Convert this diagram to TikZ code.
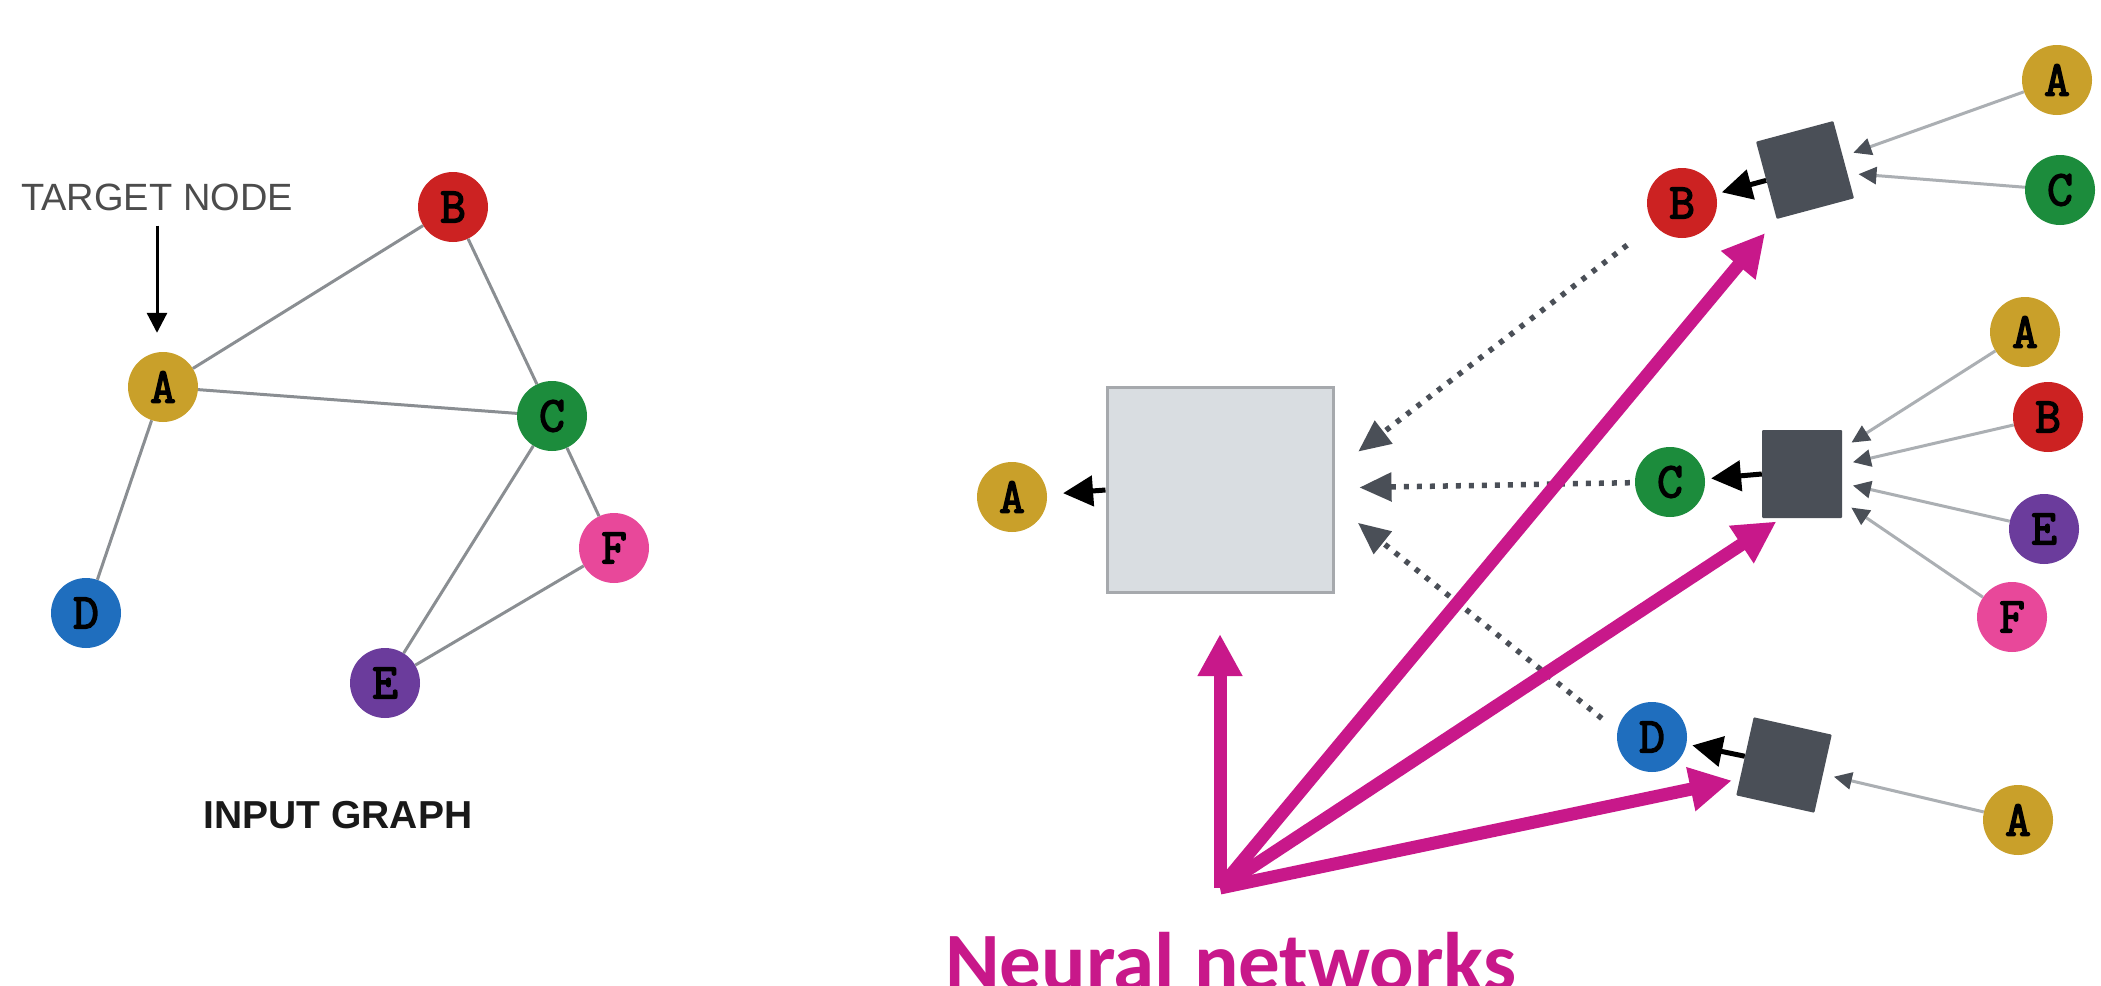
\documentclass[tikz,border=0pt]{standalone}
\usepackage{fontspec}
\setmainfont{Liberation Sans}
\newfontfamily\nnfont{Carlito}
\newfontfamily\letterfont{Latin Modern Mono}[FakeBold=3]
\usetikzlibrary{arrows.meta}
\definecolor{cA}{HTML}{C9A02A}
\definecolor{cB}{HTML}{CC2222}
\definecolor{cC}{HTML}{1C8C3C}
\definecolor{cD}{HTML}{1F6EBE}
\definecolor{cE}{HTML}{6B3C9C}
\definecolor{cF}{HTML}{E8489A}
\definecolor{nnpink}{HTML}{C8188A}
\definecolor{boxdark}{HTML}{4A4F57}
\definecolor{boxlight}{HTML}{D9DDE1}
\definecolor{boxedge}{HTML}{A6A9AD}
\definecolor{edgegray}{HTML}{8A8E92}
\definecolor{ingray}{HTML}{ABAFB3}
\begin{document}
\begin{tikzpicture}[x=1pt,y=-1pt,
  vert/.style={circle,fill=#1,minimum size=70pt,inner sep=0pt,font=\letterfont\fontsize{50}{50}\selectfont},
  agg/.style={fill=boxdark,minimum width=80pt,minimum height=80pt,inner sep=0pt,rounded corners=1pt,rotate=#1},
  edge/.style={draw=edgegray,line width=3pt},
  inarrow/.style={draw=ingray,line width=3pt,-{Triangle[length=18pt,width=17pt,color=boxdark]},shorten >=11pt},
  outarrow/.style={line width=5pt,-{Triangle[length=30pt,width=30pt]},shorten >=6pt},
  dotarrow/.style={draw=boxdark,line width=5.5pt,dash pattern=on 5pt off 8pt,-{Triangle[length=32pt,width=28pt]}},
  nnarrow/.style={draw=nnpink,line width=13pt,-{Triangle[length=42pt,width=42pt]}}]
\useasboundingbox[fill=white](0,0)rectangle(2101,985);
\node[vert=cA](aL)at(163,387){A};
\node[vert=cB](bL)at(453,207){B};
\node[vert=cC](cL)at(552,416){C};
\node[vert=cD](dL)at(86,613){D};
\node[vert=cE](eL)at(385,683){E};
\node[vert=cF](fL)at(614,548){F};
\draw[edge](aL)--(bL) (aL)--(cL) (bL)--(cL) (aL)--(dL) (cL)--(eL) (cL)--(fL) (eL)--(fL);
\node[inner sep=0pt,text=black!70,font=\fontsize{38}{38}\selectfont](tgt)at(157,197){TARGET NODE};
\draw[line width=3pt,-{Triangle[length=20pt,width=20pt]},shorten <=15pt,shorten >=19pt](tgt)--(tgt|-aL.north);
\node[inner sep=0pt,text=black!90,font=\bfseries\fontsize{39}{39}\selectfont](inp)at(338,815){INPUT GRAPH};
\node[draw=boxedge,line width=3pt,fill=boxlight,minimum width=226pt,minimum height=205pt,inner sep=0pt](lbox)at(1220,490){};
\node[vert=cA](aO)at(1012,497){A};
\draw[outarrow,shorten >=16pt](lbox.west)--(aO);
\node[agg=15](aggB)at(1805,170){};
\node[vert=cB](bT)at(1682,203){B};
\node[vert=cA](aT)at(2057,80){A};
\node[vert=cC](cT)at(2060,190){C};
\draw[outarrow](aggB.west)--(bT);
\draw[inarrow](aT)--(aggB);
\draw[inarrow](cT)--(aggB);
\node[agg=0,minimum height=88pt](aggC)at(1802,474){};
\node[vert=cC](cM)at(1670,482){C};
\node[vert=cA](aM)at(2025,332){A};
\node[vert=cB](bM)at(2048,417){B};
\node[vert=cE](eM)at(2044,529){E};
\node[vert=cF](fM)at(2012,617){F};
\draw[outarrow](aggC.west)--(cM);
\foreach \n in {aM,bM,eM,fM}\draw[inarrow](\n)--(aggC);
\node[agg=-12.6](aggD)at(1784,765){};
\node[vert=cD](dB)at(1652,737){D};
\node[vert=cA](aB)at(2018,820){A};
\draw[outarrow](aggD.west)--(dB);
\draw[inarrow](aB)--(aggD);
\draw[dotarrow,shorten <=34pt,shorten >=30pt](bT)--(lbox.10);
\draw[dotarrow,shorten <=5pt,shorten >=25pt](cM)--(lbox);
\draw[dotarrow,shorten <=20pt,shorten >=30pt](dB.170)--(lbox.-7);
\coordinate(nn)at(1220,888);
\draw[nnarrow,shorten >=40pt](nn)--(lbox.south);
\draw[nnarrow,shorten >=18pt](nn)--(aggB.south west);
\draw[nnarrow,shorten >=6pt](nn)--(aggC.-115);
\draw[nnarrow,shorten >=8pt](nn)--(aggD.-150);
\node[anchor=base west,inner sep=0pt,text=nnpink,font=\nnfont\bfseries\fontsize{83}{83}\selectfont](nnlbl)at(945,990){Neural networks};
\end{tikzpicture}
\end{document}
